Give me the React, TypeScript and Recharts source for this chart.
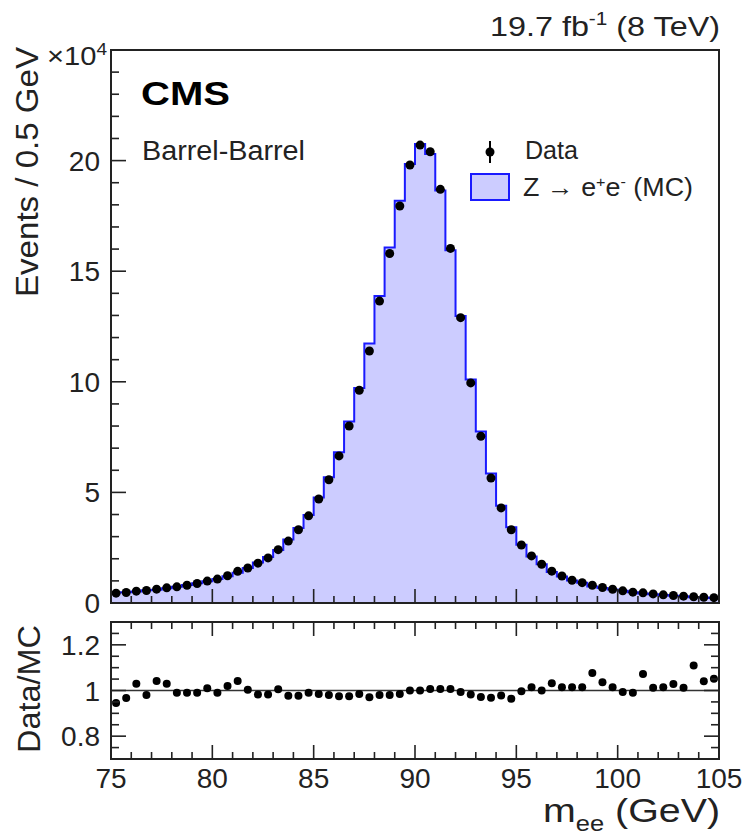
import React from "react";
import { ComposedChart, Area, Scatter, XAxis, YAxis, ReferenceArea, ReferenceLine } from "recharts";

// bin centres of the m_ee histogram (0.5 GeV bins)
const massBins = [
  75.25, 75.75, 76.25, 76.75, 77.25, 77.75, 78.25, 78.75, 79.25, 79.75,
  80.25, 80.75, 81.25, 81.75, 82.25, 82.75, 83.25, 83.75, 84.25, 84.75,
  85.25, 85.75, 86.25, 86.75, 87.25, 87.75, 88.25, 88.75, 89.25, 89.75,
  90.25, 90.75, 91.25, 91.75, 92.25, 92.75, 93.25, 93.75, 94.25, 94.75,
  95.25, 95.75, 96.25, 96.75, 97.25, 97.75, 98.25, 98.75, 99.25, 99.75,
  100.25, 100.75, 101.25, 101.75, 102.25, 102.75, 103.25, 103.75, 104.25, 104.75,
];

// events / 0.5 GeV, in units of 10^4
const dataEvents = [
  0.445, 0.475, 0.535, 0.566, 0.626, 0.686, 0.73, 0.805, 0.88, 0.99,
  1.08, 1.23, 1.43, 1.58, 1.8, 2.04, 2.41, 2.8, 3.31, 3.94,
  4.7, 5.57, 6.65, 8.0, 9.62, 11.39, 13.65, 15.8, 17.95, 19.8,
  20.7, 20.4, 18.7, 16.03, 12.9, 9.95, 7.54, 5.65, 4.3, 3.31,
  2.62, 2.13, 1.75, 1.44, 1.22, 1.03, 0.92, 0.8, 0.7, 0.62,
  0.55, 0.49, 0.46, 0.41, 0.37, 0.34, 0.31, 0.285, 0.26, 0.24,
];

const mcEvents = [
  0.47, 0.49, 0.52, 0.58, 0.6, 0.67, 0.74, 0.81, 0.89, 0.98,
  1.09, 1.21, 1.37, 1.58, 1.83, 2.08, 2.4, 2.87, 3.39, 3.98,
  4.77, 5.68, 6.82, 8.2, 9.72, 11.73, 13.88, 16.07, 18.18, 19.85,
  20.75, 20.3, 18.65, 15.95, 12.98, 10.1, 7.75, 5.85, 4.4, 3.43,
  2.63, 2.1, 1.75, 1.4, 1.2, 1.02, 0.91, 0.75, 0.68, 0.61,
  0.55, 0.49, 0.43, 0.4, 0.36, 0.33, 0.31, 0.26, 0.25, 0.23,
];

const dataOverMc = [
  0.945, 0.967, 1.03, 0.98, 1.042, 1.03, 0.99, 0.99, 0.99, 1.01,
  0.99, 1.02, 1.042, 1.003, 0.982, 0.982, 1.005, 0.977, 0.977, 0.99,
  0.985, 0.98, 0.975, 0.975, 0.985, 0.97, 0.98, 0.98, 0.985, 1.0,
  1.0, 1.007, 1.007, 1.007, 0.993, 0.983, 0.971, 0.968, 0.978, 0.964,
  0.997, 1.014, 1.0, 1.032, 1.014, 1.014, 1.014, 1.077, 1.036, 1.014,
  0.993, 0.99, 1.072, 1.012, 1.014, 1.029, 1.012, 1.109, 1.041, 1.051,
];

const xTicks = [
  75, 76, 77, 78, 79, 80, 81, 82, 83, 84, 85, 86, 87, 88, 89, 90,
  91, 92, 93, 94, 95, 96, 97, 98, 99, 100, 101, 102, 103, 104, 105,
];
const eventTicks = [0, 1, 2, 3, 4, 5, 6, 7, 8, 9, 10, 11, 12, 13, 14, 15, 16, 17, 18, 19, 20, 21, 22, 23, 24, 25];
const ratioTicks = [0.7, 0.75, 0.8, 0.85, 0.9, 0.95, 1, 1.05, 1.1, 1.15, 1.2, 1.25, 1.3];

const FONT = "'Liberation Sans', Arial, Helvetica, sans-serif";
const INK = "#222";
const PLOT_W = 608;
const RATIO_H = 137;

// histogram outline: extend first/last bins to the 75 and 105 edges
const histRows = [
  { x: 75, mc: mcEvents[0] },
  ...massBins.map((x, i) => ({ x, mc: mcEvents[i] })),
  { x: 105, mc: mcEvents[mcEvents.length - 1] },
];
const dataRows = massBins.map((x, i) => ({ x, events: dataEvents[i] }));
const ratioRows = massBins.map((x, i) => ({ x, ratio: dataOverMc[i] }));

const isMajorX = (v: number) => v % 5 === 0;

function TopXTick(props: any) {
  const { x, y, payload } = props;
  return <line x1={x} x2={x} y1={y} y2={y - (isMajorX(payload.value) ? 14 : 7)} stroke={INK} strokeWidth={1.6} />;
}

function TopYTick(props: any) {
  const { x, y, payload } = props;
  const major = payload.value % 5 === 0;
  return (
    <g>
      <line x1={x} x2={x + (major ? 15 : 8)} y1={y} y2={y} stroke={INK} strokeWidth={1.6} />
      {major && payload.value !== 25 && (
        <text x={x - 11} y={y + 10} textAnchor="end" fontSize={28} fontFamily={FONT} fill={INK}>
          {payload.value}
        </text>
      )}
    </g>
  );
}

function RatioXTick(props: any) {
  const { x, y, payload } = props;
  const len = isMajorX(payload.value) ? 14 : 7;
  return (
    <g>
      <line x1={x} x2={x} y1={y} y2={y - len} stroke={INK} strokeWidth={1.6} />
      <line x1={x} x2={x} y1={y - RATIO_H} y2={y - RATIO_H + len} stroke={INK} strokeWidth={1.6} />
      {isMajorX(payload.value) && (
        <text x={x} y={y + 29} textAnchor="middle" fontSize={28} fontFamily={FONT} fill={INK}>
          {payload.value}
        </text>
      )}
    </g>
  );
}

function RatioYTick(props: any) {
  const { x, y, payload } = props;
  const tenths = payload.value * 10;
  const major = Math.abs(tenths - Math.round(tenths)) < 1e-6 && Math.round(tenths) % 2 === 0;
  const len = major ? 15 : 8;
  return (
    <g>
      <line x1={x} x2={x + len} y1={y} y2={y} stroke={INK} strokeWidth={1.6} />
      <line x1={x + PLOT_W} x2={x + PLOT_W - len} y1={y} y2={y} stroke={INK} strokeWidth={1.6} />
      {major && (
        <text x={x - 11} y={y + 10} textAnchor="end" fontSize={28} fontFamily={FONT} fill={INK}>
          {String(Math.round(payload.value * 10) / 10)}
        </text>
      )}
    </g>
  );
}

const dot = (r: number) => (p: any) => <circle cx={p.cx} cy={p.cy} r={r} fill="#000" />;

export default function App() {
  return (
    <div style={{ position: "absolute", left: 0, top: 0, width: 747, height: 838, background: "#fff", fontFamily: FONT }}>
      <div style={{ position: "absolute", left: 0, top: 0 }}>
        {/* taller than needed so the "0" label below the plot is not clipped */}
        <ComposedChart width={747} height={640} data={histRows} margin={{ top: 50, right: 28, bottom: 35, left: 51 }}>
          <Area
            type="step"
            dataKey="mc"
            stroke="#1a1aff"
            strokeWidth={2}
            fill="#ccccff"
            fillOpacity={1}
            dot={false}
            activeDot={false}
            isAnimationActive={false}
          />
          <ReferenceArea x1={75} x2={105} y1={0} y2={25} fill="none" stroke={INK} strokeWidth={2} />
          <Scatter data={dataRows} dataKey="events" shape={dot(4.5)} isAnimationActive={false} />
          <XAxis
            type="number"
            dataKey="x"
            domain={[75, 105]}
            ticks={xTicks}
            interval={0}
            height={2}
            tickSize={0}
            tickMargin={0}
            axisLine={false}
            tickLine={false}
            tick={TopXTick}
            allowDataOverflow
          />
          <YAxis
            type="number"
            domain={[0, 25]}
            ticks={eventTicks}
            interval={0}
            width={60}
            tickSize={0}
            tickMargin={0}
            axisLine={false}
            tickLine={false}
            tick={TopYTick}
            allowDataOverflow
          />
        </ComposedChart>
      </div>

      <div style={{ position: "absolute", left: 0, top: 612 }}>
        <ComposedChart width={747} height={226} data={ratioRows} margin={{ top: 10, right: 28, bottom: 39, left: 51 }}>
          <ReferenceLine y={1} stroke="#333" strokeWidth={1.6} />
          <ReferenceArea x1={75} x2={105} y1={0.7} y2={1.3} fill="none" stroke={INK} strokeWidth={2} />
          <Scatter data={ratioRows} dataKey="ratio" shape={dot(4)} isAnimationActive={false} />
          <XAxis
            type="number"
            dataKey="x"
            domain={[75, 105]}
            ticks={xTicks}
            interval={0}
            height={40}
            tickSize={0}
            tickMargin={0}
            axisLine={false}
            tickLine={false}
            tick={RatioXTick}
            allowDataOverflow
          />
          <YAxis
            type="number"
            domain={[0.7, 1.3]}
            ticks={ratioTicks}
            interval={0}
            width={60}
            tickSize={0}
            tickMargin={0}
            axisLine={false}
            tickLine={false}
            tick={RatioYTick}
            allowDataOverflow
          />
        </ComposedChart>
      </div>

      {/* titles, labels and legend */}
      <svg width={747} height={838} style={{ position: "absolute", left: 0, top: 0, pointerEvents: "none" }} fontFamily={FONT} fill={INK}>
        <text x={720} y={36} textAnchor="end" fontSize={28} textLength={230} lengthAdjust="spacingAndGlyphs">
          19.7 fb<tspan dy={-11} fontSize={18}>-1</tspan>
          <tspan dy={11}> (8 TeV)</tspan>
        </text>
        <text x={47} y={65} fontSize={26} textLength={60} lengthAdjust="spacingAndGlyphs">
          ×10<tspan dy={-10} fontSize={17}>4</tspan>
        </text>
        <text x={141} y={105} fontSize={34} fontWeight="bold" fill="#000" textLength={89} lengthAdjust="spacingAndGlyphs">
          CMS
        </text>
        <text x={142} y={160} fontSize={27} textLength={163} lengthAdjust="spacingAndGlyphs">
          Barrel-Barrel
        </text>
        <text transform="translate(38,47) rotate(-90)" textAnchor="end" fontSize={32} textLength={250} lengthAdjust="spacingAndGlyphs">
          Events / 0.5 GeV
        </text>
        <text transform="translate(40,625) rotate(-90)" textAnchor="end" fontSize={32} textLength={128} lengthAdjust="spacingAndGlyphs">
          Data/MC
        </text>
        <text x={543} y={822} fontSize={34} textLength={177} lengthAdjust="spacingAndGlyphs">
          m<tspan dy={9} fontSize={22}>ee</tspan>
          <tspan dy={-9}> (GeV)</tspan>
        </text>

        <line x1={490} x2={490} y1={141} y2={163} stroke="#000" strokeWidth={2} />
        <circle cx={490} cy={152} r={4.5} fill="#000" />
        <text x={525} y={159} fontSize={25} textLength={53} lengthAdjust="spacingAndGlyphs">
          Data
        </text>
        <rect x={471} y={174} width={38} height={26} fill="#ccccff" stroke="#1a1aff" strokeWidth={2} />
        <text x={523} y={196} fontSize={25} textLength={170} lengthAdjust="spacingAndGlyphs">
          Z → e<tspan dy={-9} fontSize={15}>+</tspan>
          <tspan dy={9}>e</tspan>
          <tspan dy={-9} fontSize={15}>-</tspan>
          <tspan dy={9}> (MC)</tspan>
        </text>
      </svg>
    </div>
  );
}
